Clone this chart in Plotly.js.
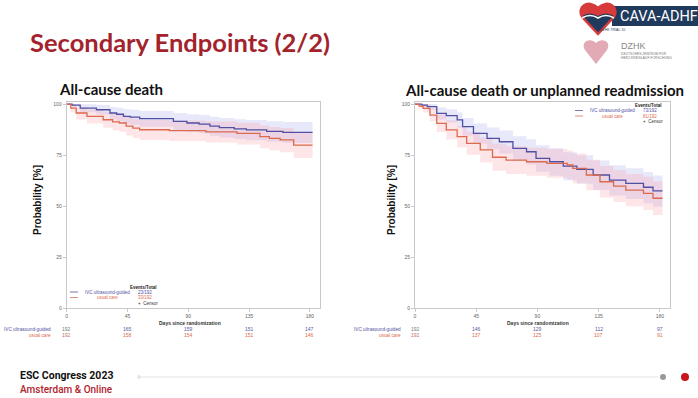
<!DOCTYPE html>
<html><head><meta charset="utf-8">
<script src="https://cdn.plot.ly/plotly-3.0.1.min.js"></script>
<style>html,body{margin:0;padding:0;background:#fff;}#chart{width:698px;height:398px;}</style>
</head><body><div id="chart"></div>
<script>
// ---- Data ----
const tickDays = [0, 45, 90, 135, 180];
const yTicks = [0, 25, 50, 75, 100];
const seriesNames = ['IVC ultrasound-guided', 'usual care'];
const panelTitles = ['All-cause death', 'All-cause death or unplanned readmission'];

// All-cause death
const deathIvcDays  = [0, 4, 10, 22, 32, 37, 42, 47, 54, 69, 79, 89, 98, 106, 113, 124, 133, 148, 160, 182];
const deathIvcSurv  = [100, 99.5, 98.0, 97.2, 95.6, 95.0, 94.0, 93.6, 92.8, 92.8, 91.5, 90.7, 90.2, 89.2, 88.4, 87.8, 87.3, 86.6, 86.1, 86.1];
const deathIvcUpper = [100, 100, 99.9, 99.5, 98.6, 98.2, 97.5, 97.2, 96.6, 96.6, 95.6, 95.0, 94.6, 93.8, 93.1, 92.6, 92.2, 91.6, 91.2, 91.2];
const deathIvcLower = [100, 98.5, 96.0, 94.8, 92.5, 91.7, 90.5, 89.9, 88.9, 88.9, 87.3, 86.3, 85.7, 84.5, 83.6, 82.9, 82.3, 81.5, 80.9, 80.9];

const deathUcDays  = [0, 3, 7, 15, 27, 34, 39, 44, 49, 54, 76, 103, 126, 143, 150, 158, 168, 182];
const deathUcSurv  = [100, 98.0, 95.6, 94.0, 92.3, 91.3, 90.7, 89.2, 88.2, 87.4, 87.0, 86.4, 85.6, 84.0, 83.2, 82.4, 79.9, 79.9];
const deathUcUpper = [100, 100, 98.4, 97.3, 96.0, 95.3, 94.8, 93.6, 92.8, 92.2, 91.9, 91.4, 90.8, 89.5, 88.8, 88.2, 86.0, 86.0];
const deathUcLower = [100, 96.0, 92.4, 90.5, 88.4, 87.2, 86.4, 84.6, 83.4, 82.4, 81.9, 81.2, 80.2, 78.3, 77.3, 76.4, 73.6, 73.6];

// All-cause death or unplanned readmission
const readmIvcDays  = [0, 5, 9, 16, 23, 31, 35, 43, 53, 62, 72, 82, 89, 99, 109, 119, 131, 143, 155, 168, 175, 182];
const readmIvcSurv  = [100, 99.5, 98.7, 95.4, 94.3, 92.2, 88.9, 85.6, 83.2, 81.5, 78.3, 76.6, 73.4, 71.7, 69.6, 68.0, 65.2, 62.7, 61.1, 59.2, 57.4, 57.4];
const readmIvcUpper = [100, 100, 100, 98.3, 97.5, 95.9, 93.2, 90.5, 88.5, 87.0, 84.2, 82.7, 79.8, 78.3, 76.4, 74.9, 72.3, 70.0, 68.5, 66.7, 65.0, 65.0];
const readmIvcLower = [100, 98.5, 97.1, 92.4, 91.0, 88.4, 84.5, 80.6, 77.8, 75.8, 72.2, 70.3, 66.8, 64.9, 62.6, 60.9, 57.9, 55.2, 53.5, 51.4, 49.6, 49.6];

const readmUcDays  = [0, 3, 6, 11, 16, 23, 31, 38, 48, 57, 67, 82, 97, 112, 116, 126, 136, 146, 155, 168, 175, 182];
const readmUcSurv  = [100, 99.0, 97.9, 94.6, 90.5, 87.3, 84.0, 80.7, 77.5, 73.9, 72.5, 71.7, 70.9, 70.1, 68.5, 65.2, 61.9, 59.8, 57.8, 56.2, 53.8, 53.8];
const readmUcUpper = [100, 100, 99.9, 97.8, 94.7, 92.0, 89.2, 86.3, 83.6, 80.5, 79.3, 78.6, 77.9, 77.2, 75.8, 72.7, 69.6, 67.6, 65.7, 64.3, 62.0, 62.0];
const readmUcLower = [100, 97.6, 95.9, 91.4, 86.3, 82.6, 78.8, 75.1, 71.4, 67.3, 65.7, 64.8, 63.9, 63.0, 61.2, 57.7, 54.2, 52.0, 49.9, 48.1, 45.6, 45.6];

// Numbers at risk
const deathIvcRisk = [192, 165, 159, 151, 147];
const deathUcRisk  = [192, 158, 154, 151, 146];
const readmIvcRisk = [192, 146, 129, 112, 97];
const readmUcRisk  = [192, 137, 125, 107, 91];

// Events / total
const deathEvents = ['23/192', '33/192'];
const readmEvents = ['73/192', '81/192'];

// ---- Styles ----
const BLUE = '#4f4fa3', RED = '#dc6a4c';
const BLUE_BAND = 'rgba(150,150,235,0.22)', RED_BAND = 'rgba(250,140,150,0.22)';
const BASE_FONT = 'Liberation Sans, Arial, sans-serif';
const TITLE_FONT = 'Lato, Liberation Sans, sans-serif';

function bandTraces(days, lower, upper, color, xa, ya) {
  return [
    {x: days, y: lower, type: 'scatter', mode: 'lines', line: {width: 0, shape: 'hv'}, xaxis: xa, yaxis: ya, hoverinfo: 'skip', showlegend: false},
    {x: days, y: upper, type: 'scatter', mode: 'lines', line: {width: 0, shape: 'hv'}, fill: 'tonexty', fillcolor: color, xaxis: xa, yaxis: ya, hoverinfo: 'skip', showlegend: false}
  ];
}
function lineTrace(days, surv, color, xa, ya) {
  return {x: days, y: surv, type: 'scatter', mode: 'lines', line: {color: color, width: 1.3, shape: 'hv'}, xaxis: xa, yaxis: ya, showlegend: false};
}

const traces = [].concat(
  bandTraces(deathIvcDays, deathIvcLower, deathIvcUpper, BLUE_BAND, 'x', 'y'),
  bandTraces(deathUcDays, deathUcLower, deathUcUpper, RED_BAND, 'x', 'y'),
  [lineTrace(deathIvcDays, deathIvcSurv, BLUE, 'x', 'y'), lineTrace(deathUcDays, deathUcSurv, RED, 'x', 'y')],
  bandTraces(readmIvcDays, readmIvcLower, readmIvcUpper, BLUE_BAND, 'x2', 'y2'),
  bandTraces(readmUcDays, readmUcLower, readmUcUpper, RED_BAND, 'x2', 'y2'),
  [lineTrace(readmIvcDays, readmIvcSurv, BLUE, 'x2', 'y2'), lineTrace(readmUcDays, readmUcSurv, RED, 'x2', 'y2')],
  [{x: [0], y: [0], type: 'scatter', mode: 'markers', marker: {opacity: 0}, xaxis: 'x3', yaxis: 'y3', hoverinfo: 'skip', showlegend: false}]
);

const W = 698, H = 398;
const plotTop = 102, plotBottom = 308;
const yDom = [1 - plotBottom / H, 1 - plotTop / H];

function kmX(dom) {
  return {domain: dom, range: [0, 187.5], tickvals: tickDays, ticktext: tickDays.map(String),
    showline: true, mirror: true, linecolor: '#c9c9c9', linewidth: 1, showgrid: false, zeroline: false,
    ticks: 'outside', ticklen: 3, tickcolor: '#c9c9c9', tickfont: {size: 5, color: '#666', family: BASE_FONT}, fixedrange: true};
}
function kmY(anchor) {
  return {domain: yDom, range: [0, 101], tickvals: yTicks, ticktext: yTicks.map(String), anchor: anchor,
    showline: true, mirror: true, linecolor: '#c9c9c9', linewidth: 1, showgrid: false, zeroline: false,
    ticks: 'outside', ticklen: 3, tickcolor: '#c9c9c9', tickfont: {size: 5, color: '#666', family: BASE_FONT}, fixedrange: true};
}

const ann = [];
const shapes = [];
function px(x, y, text, opts) {
  ann.push(Object.assign({x: x, y: y, xref: 'x3', yref: 'y3', text: text, showarrow: false,
    xanchor: 'left', yanchor: 'middle', font: {family: BASE_FONT, size: 5, color: '#333'}}, opts || {}));
}

// Slide title
px(28, 42, 'Secondary Endpoints (2/2)', {font: {family: TITLE_FONT, size: 25.5, color: '#a3232d', weight: 700}});
// Panel titles
px(57, 89, panelTitles[0], {font: {family: TITLE_FONT, size: 15, color: '#111', weight: 700}});
px(403, 90, panelTitles[1], {font: {family: TITLE_FONT, size: 15, color: '#111', weight: 700}});
// Y titles
px(37, 200, 'Probability [%]', {xanchor: 'center', textangle: -90, font: {family: BASE_FONT, size: 10, color: '#111', weight: 700}});
px(391, 200, 'Probability [%]', {xanchor: 'center', textangle: -90, font: {family: BASE_FONT, size: 10, color: '#111', weight: 700}});
// X titles
px(190, 323, 'Days since randomization', {xanchor: 'center', font: {family: BASE_FONT, size: 5, color: '#333', weight: 700}});
px(538, 323, 'Days since randomization', {xanchor: 'center', font: {family: BASE_FONT, size: 5, color: '#333', weight: 700}});

// Risk tables
function riskRows(xref, labelRight, ivc, uc) {
  px(labelRight, 329, seriesNames[0], {xanchor: 'right', font: {family: BASE_FONT, size: 4.7, color: BLUE}});
  px(labelRight, 335, seriesNames[1], {xanchor: 'right', font: {family: BASE_FONT, size: 4.7, color: RED}});
  tickDays.forEach((d, i) => {
    ann.push({x: d, y: 329, xref: xref, yref: 'y3', text: String(ivc[i]), showarrow: false, xanchor: 'center', yanchor: 'middle', font: {family: BASE_FONT, size: 5, color: i === 0 ? '#777' : '#5a5a9a'}});
    ann.push({x: d, y: 335, xref: xref, yref: 'y3', text: String(uc[i]), showarrow: false, xanchor: 'center', yanchor: 'middle', font: {family: BASE_FONT, size: 5, color: i === 0 ? '#c07060' : RED}});
  });
}
riskRows('x', 53, deathIvcRisk, deathUcRisk);
riskRows('x2', 403, readmIvcRisk, readmUcRisk);

// In-plot legends
function legend(x0, y0, ev) {
  px(x0 + 73, y0, 'Events/Total', {xanchor: 'center', font: {family: BASE_FONT, size: 4.5, color: '#222', weight: 700}});
  shapes.push({type: 'line', xref: 'x3', yref: 'y3', x0: x0, x1: x0 + 8, y0: y0 + 5, y1: y0 + 5, line: {color: '#7a7ab0', width: 1}});
  shapes.push({type: 'line', xref: 'x3', yref: 'y3', x0: x0, x1: x0 + 8, y0: y0 + 10.5, y1: y0 + 10.5, line: {color: '#d89080', width: 1}});
  px(x0 + 37, y0 + 5, seriesNames[0], {xanchor: 'center', font: {family: BASE_FONT, size: 4.5, color: BLUE}});
  px(x0 + 37, y0 + 10.5, seriesNames[1], {xanchor: 'center', font: {family: BASE_FONT, size: 4.5, color: RED}});
  px(x0 + 66, y0 + 5, ev[0], {font: {family: BASE_FONT, size: 4.5, color: BLUE}});
  px(x0 + 66, y0 + 10.5, ev[1], {font: {family: BASE_FONT, size: 4.5, color: RED}});
  px(x0 + 66, y0 + 16, '+  Censor', {font: {family: BASE_FONT, size: 4.5, color: '#333'}});
}
legend(70, 287, deathEvents);
legend(575, 105.5, readmEvents);

// Logo: CAVA-ADHF
shapes.push({type: 'rect', xref: 'x3', yref: 'y3', x0: 612, x1: 700, y0: 6, y1: 26, fillcolor: '#1f3a5c', line: {width: 0}});
shapes.push({type: 'path', xref: 'x3', yref: 'y3', path: 'M 598 34 L 583 18 C 575 8 588 -2 598 8 C 608 -2 621 8 613 18 Z', fillcolor: '#1f3a5c', line: {color: '#d63a3a', width: 2.5}});
shapes.push({type: 'path', xref: 'x3', yref: 'y3', path: 'M 582 16 C 575 8 588 -2 598 8 C 608 -2 621 8 614 16 Q 606 11 598 16 Q 590 11 582 16 Z', fillcolor: '#d63a3a', line: {width: 0}});
shapes.push({type: 'path', xref: 'x3', yref: 'y3', path: 'M 582 18 Q 590 13 598 18 Q 606 13 614 18', line: {color: '#ffffff', width: 1.5}});
px(618, 16, 'CAVA-ADHF', {font: {family: 'Roboto, Liberation Sans, sans-serif', size: 14.5, color: '#ffffff'}});
px(598, 30, 'DZHK TRIAL 10', {font: {family: BASE_FONT, size: 3.5, color: '#1f3a5c'}});
// Logo: DZHK
shapes.push({type: 'path', xref: 'x3', yref: 'y3', path: 'M 596 64 L 585 50 C 580 42 590 37 596 43 C 602 37 612 42 607 50 Z', fillcolor: 'rgba(200,100,120,0.55)', line: {width: 0}});
px(619, 46, 'DZHK', {font: {family: BASE_FONT, size: 9, color: '#888'}});
px(619, 54, 'DEUTSCHES ZENTRUM FÜR', {font: {family: BASE_FONT, size: 3.3, color: '#777'}});
px(619, 58, 'HERZ-KREISLAUF-FORSCHUNG', {font: {family: BASE_FONT, size: 3.3, color: '#777'}});

// Footer
px(18, 375.5, 'ESC Congress 2023', {font: {family: 'Roboto, Liberation Sans, sans-serif', size: 10.5, color: '#111', weight: 700}});
px(18, 389, 'Amsterdam & Online', {font: {family: 'Roboto, Liberation Sans, sans-serif', size: 10, color: '#b1232e', weight: 500}});
shapes.push({type: 'line', xref: 'x3', yref: 'y3', x0: 140, x1: 658, y0: 377, y1: 377, line: {color: '#e3e3e3', width: 1}});
shapes.push({type: 'circle', xref: 'x3', yref: 'y3', x0: 137, x1: 141, y0: 375, y1: 379, fillcolor: '#e6e6e6', line: {width: 0}});
shapes.push({type: 'circle', xref: 'x3', yref: 'y3', x0: 660, x1: 666, y0: 374, y1: 380, fillcolor: '#999', line: {width: 0}});
shapes.push({type: 'circle', xref: 'x3', yref: 'y3', x0: 681, x1: 689, y0: 373, y1: 381, fillcolor: '#c8161f', line: {width: 0}});

const layout = {
  width: W, height: H, margin: {l: 0, r: 0, t: 0, b: 0},
  paper_bgcolor: '#ffffff', plot_bgcolor: 'rgba(0,0,0,0)', showlegend: false,
  font: {family: BASE_FONT},
  xaxis: Object.assign(kmX([66.7 / W, 320 / W]), {anchor: 'y'}),
  yaxis: kmY('x'),
  xaxis2: Object.assign(kmX([415 / W, 670 / W]), {anchor: 'y2'}),
  yaxis2: kmY('x2'),
  xaxis3: {domain: [0, 1], range: [0, W], visible: false, anchor: 'y3', fixedrange: true},
  yaxis3: {domain: [0, 1], range: [H, 0], visible: false, anchor: 'x3', fixedrange: true},
  annotations: ann, shapes: shapes
};
Plotly.newPlot('chart', traces, layout, {displayModeBar: false, staticPlot: true});
</script></body></html>
